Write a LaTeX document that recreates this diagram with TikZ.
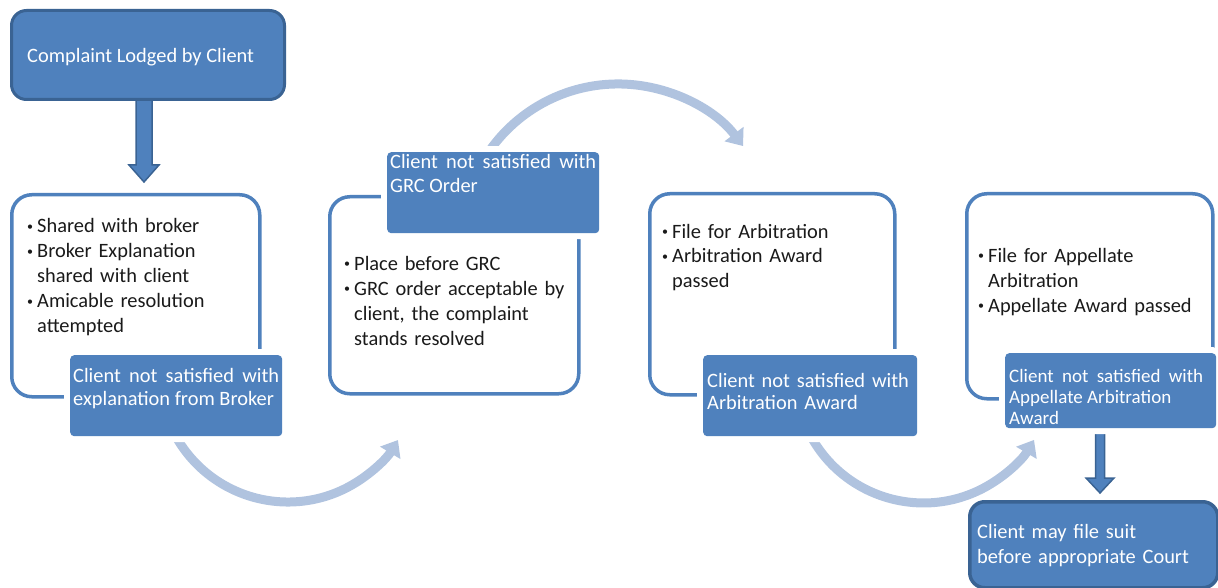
\documentclass[tikz,border=0pt]{standalone}
\usepackage{fontspec}
\setmainfont{Carlito}
\usetikzlibrary{arrows.meta}
\definecolor{obl}{HTML}{4F81BD}
\definecolor{odk}{HTML}{3A6393}
\definecolor{oarc}{HTML}{B0C3DF}
\definecolor{otxt}{HTML}{1A1A1A}
\newcommand\bulitem[1]{\makebox[10pt][l]{\raisebox{2.3pt}{\fontsize{12}{12}\selectfont\textbullet}}#1}
\newcommand\contline[1]{\hspace*{10pt}#1}
\begin{document}
\begin{tikzpicture}[x=1pt,y=-1pt,
  darkbox/.style={draw=odk, line width=3pt, fill=obl, rounded corners=15pt, inner sep=0pt, anchor=north west},
  whitebox/.style={draw=obl, line width=3.5pt, fill=white, rounded corners=20pt, inner sep=0pt, anchor=north west},
  labbox/.style={fill=obl, rounded corners=4pt, inner sep=0pt, anchor=north west,
    preaction={draw=white, line width=12pt, rounded corners=4pt}},
  bodytext/.style={anchor=base west, inner sep=0pt, text width=240pt, align=left, text=otxt,
    font=\fontsize{20.4}{25}\selectfont},
  labtext/.style={anchor=base west, inner sep=0pt, text=white},
  arcarrow/.style={draw=oarc, line width=9pt, -{Triangle[width=23pt,length=15pt]}},
  fatarrow/.style={fill=obl, draw=odk, line width=1.5pt, line join=miter}
]
\useasboundingbox (0,0) rectangle (1218,588);

% white step boxes
\node[whitebox, minimum width=248pt, minimum height=202pt] (b1) at (10,193) {};
\node[whitebox, minimum width=249pt, minimum height=197pt] (b2) at (328,195) {};
\node[whitebox, minimum width=245pt, minimum height=201pt] (b3) at (648,192) {};
\node[whitebox, minimum width=246pt, minimum height=205pt] (b4) at (965,192) {};

% curved arrows (start hidden under the labels)
\draw[arcarrow] (176.6,437.7) arc[start angle=150, end angle=31.2, radius=128.6];
\draw[arcarrow] (811.2,436.8) arc[start angle=151, end angle=30.6, radius=128.4];
\draw[arcarrow] (489.4,150.9) arc[start angle=215, end angle=322.8, radius=157];

% down arrows
\draw[fatarrow] (136,95) -- (136,165) -- (129,165) -- (144,182) -- (159,165) -- (152,165) -- (152,95) -- cycle;
\draw[fatarrow] (1095.5,426) -- (1095.5,478) -- (1086,478) -- (1100,493) -- (1114,478) -- (1104.5,478) -- (1104.5,426) -- cycle;

% dark boxes
\node[darkbox, minimum width=273pt, minimum height=89pt] (top) at (10,9) {};
\node[darkbox, line width=3.5pt, minimum width=248pt, minimum height=86pt] (fin) at (968,500) {};

% label boxes
\node[labbox, minimum width=212pt, minimum height=81pt] (l1) at (70,355) {};
\node[labbox, minimum width=212pt, minimum height=81pt] (l2) at (387,152) {};
\node[labbox, minimum width=214pt, minimum height=81pt] (l3) at (703,355) {};
\node[labbox, minimum width=211pt, minimum height=75pt] (l4) at (1005,353) {};

% texts
\node[labtext, font=\fontsize{20.4}{25}\selectfont] (ttop) at (27,63) {Complaint Lodged by Client};
\node[labtext, text width=228pt, align=left, font=\fontsize{20.4}{25}\selectfont] (tfin) at (977,538) {Client may file suit\\before appropriate Court};

\node[bodytext] (t1) at (27,233) {\bulitem{Shared with broker}\\\bulitem{Broker Explanation}\\\contline{shared with client}\\\bulitem{Amicable resolution}\\\contline{attempted}};
\node[bodytext] (t2) at (344,270) {\bulitem{Place before GRC}\\\bulitem{GRC order acceptable by}\\\contline{client, the complaint}\\\contline{stands resolved}};
\node[bodytext, font=\fontsize{20.4}{24.5}\selectfont] (t3) at (662,238) {\bulitem{File for Arbitration}\\\bulitem{Arbitration Award}\\\contline{passed}};
\node[bodytext] (t4) at (978,262) {\bulitem{File for Appellate}\\\contline{Arbitration}\\\bulitem{Appellate Award passed}};

\node[labtext, text width=206pt, align=justify, font=\fontsize{20.4}{23}\selectfont] (s1) at (73,382) {Client not satisfied with\linebreak explanation from Broker};
\node[labtext, text width=206pt, align=justify, font=\fontsize{20.4}{24}\selectfont] (s2) at (390,169) {Client not satisfied with\linebreak GRC Order};
\node[labtext, text width=206pt, align=left, font=\fontsize{20.4}{22.5}\selectfont] (s3) at (707,387) {Client not satisfied with\\Arbitration Award};
\node[labtext, text width=194pt, align=justify, font=\fontsize{19}{21}\selectfont] (s4) at (1009,382) {Client not satisfied with\linebreak Appellate Arbitration\newline Award};
\end{tikzpicture}
\end{document}
